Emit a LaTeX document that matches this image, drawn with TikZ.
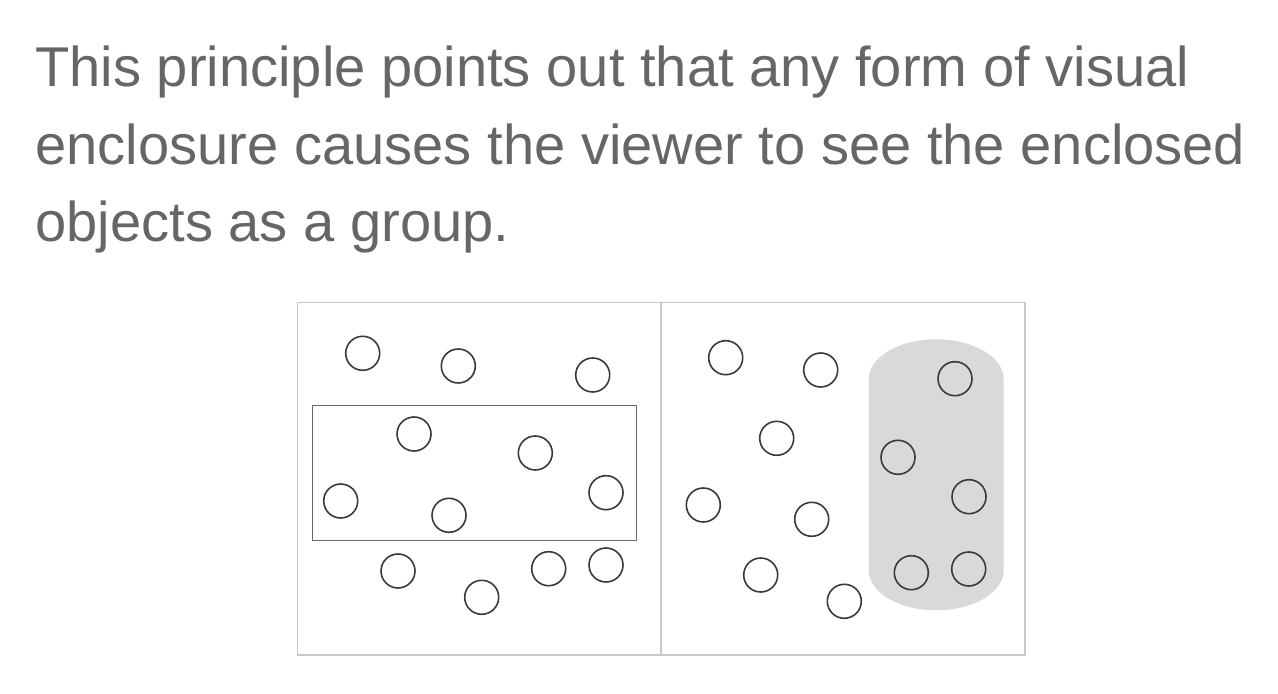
\documentclass[tikz,border=0pt]{standalone}
\usepackage{fontspec}
\setmainfont{Liberation Sans}
\definecolor{textGray}{HTML}{666666}
\definecolor{frameGray}{HTML}{C8C8C8}
\definecolor{boxGray}{HTML}{666666}
\definecolor{pillGray}{HTML}{D9D9D9}
\definecolor{ringGray}{HTML}{3A3A3A}
\tikzset{v/.style={circle, draw=ringGray, line width=.8pt, inner sep=0pt,
  minimum size=17pt}}
\tikzset{txt/.style={anchor=base west, inner sep=0pt, textGray,
  font=\fontsize{28.05}{33}\selectfont}}
\tikzset{fr/.style={draw, frameGray, line width=.75pt}}
\begin{document}
\begin{tikzpicture}[x=.5pt,y=-.5pt]
        \useasboundingbox (0,0) rectangle (1278,694);
        %% caption
        \node (line1) at (35,86.7) [txt] {This principle points out that any form of visual};
        \node (line2) at (35,165) [txt] {enclosure causes the viewer to see the enclosed};
        \node (line3) at (35,241.7) [txt] {objects as a group.};
        %% frames
        \draw [fr] (297.3,302.3) rectangle (661,655);
        \draw [fr] (661,302.3) rectangle (1025,655);
        %% left version
        \begin{scope}
            \draw [boxGray, line width=.6pt] (312.3,405.3) rectangle (636.7,540.7);
            \node (a1) at (362.7,353.3) [v] {};
            \node (a2) at (458.3,366) [v] {};
            \node (a3) at (592.7,375) [v] {};
            \node (a4) at (414,434) [v] {};
            \node (a5) at (535.3,453) [v] {};
            \node (a6) at (340.7,501) [v] {};
            \node (a7) at (449,515.3) [v] {};
            \node (a8) at (606,492.7) [v] {};
            \node (a9) at (398,571) [v] {};
            \node (a10) at (481.7,597.3) [v] {};
            \node (a11) at (548.7,568.7) [v] {};
            \node (a12) at (606,565) [v] {};
        \end{scope}
        %% right version
        \begin{scope}
            \fill [pillGray] (868.7,379.3)
                arc [start angle=180, end angle=360, x radius=67.5, y radius=40]
                -- (1003.7,570.3)
                arc [start angle=0, end angle=180, x radius=67.5, y radius=40]
                -- cycle;
            \node (b1) at (725.7,357.7) [v] {};
            \node (b2) at (820.7,370) [v] {};
            \node (b3) at (776.7,438.3) [v] {};
            \node (b4) at (703.3,505) [v] {};
            \node (b5) at (811.7,519.3) [v] {};
            \node (b6) at (760.7,575) [v] {};
            \node (b7) at (844.3,601.3) [v] {};
            \node (b8) at (955,378.7) [v] {};
            \node (b9) at (898,457.3) [v] {};
            \node (b10) at (969,496.7) [v] {};
            \node (b11) at (911.3,572.7) [v] {};
            \node (b12) at (968.7,569) [v] {};
        \end{scope}
    \end{tikzpicture}
\end{document}
